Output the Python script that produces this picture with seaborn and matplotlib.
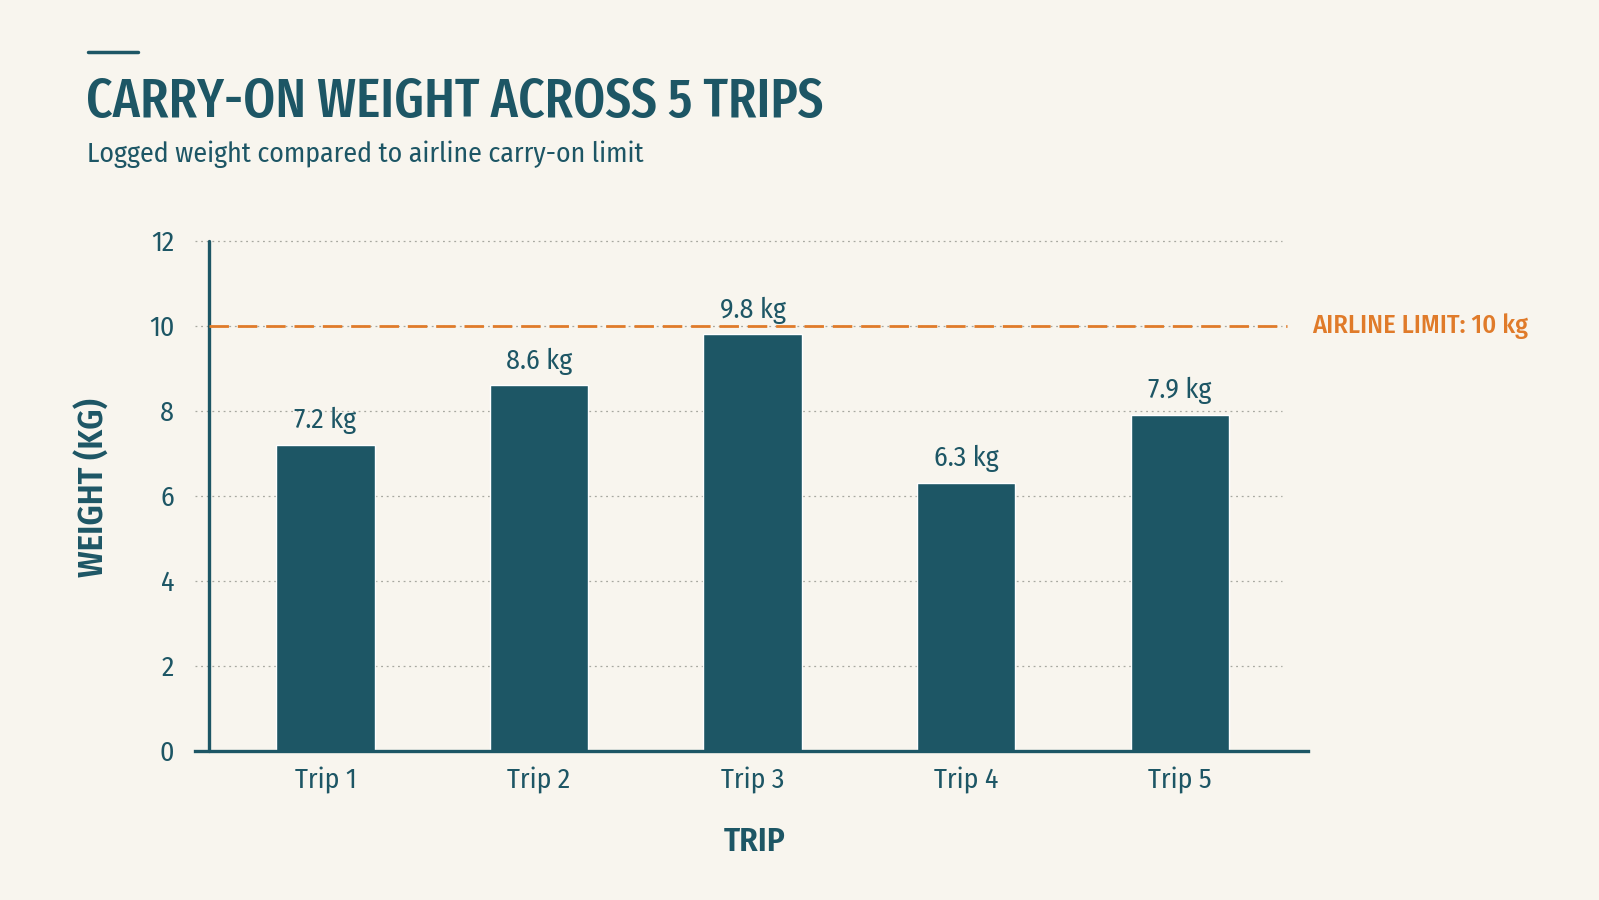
import pandas as pd
import seaborn as sns
from matplotlib import pyplot as plt
from matplotlib.lines import Line2D

# data
trips = ["Trip 1", "Trip 2", "Trip 3", "Trip 4", "Trip 5"]
weights = [7.2, 8.6, 9.8, 6.3, 7.9]
limit = 10
y_ticks = [0, 2, 4, 6, 8, 10, 12]

TEAL = "#1d5665"
ORANGE = "#e07b2a"
BG = "#f8f5ee"
GRID = "#a8a8a0"
FONT = ["Fira Sans Condensed", "DejaVu Sans"]

sns.set_theme(style="white")
plt.rcParams["font.family"] = FONT

df = pd.DataFrame({"trip": trips, "weight": weights})

fig = plt.figure(figsize=(15.99, 9), dpi=100, facecolor=BG)
ax = fig.add_axes([0.122, 0.1661, 0.696, 0.5664])
ax.set_facecolor(BG)

sns.barplot(data=df, x="trip", y="weight", color=TEAL, width=0.46, saturation=1, ax=ax, zorder=3)

ax.set_xlim(-0.61, 4.6)
ax.set_ylim(0, 12)
ax.set_yticks(y_ticks)
ax.set_xlabel("")
ax.set_ylabel("")

for s in ["top", "right", "left"]:
    ax.spines[s].set_visible(False)
ax.spines["bottom"].set_color(TEAL)
ax.spines["bottom"].set_linewidth(2.4)
ax.spines["bottom"].set_zorder(4)

# y axis line sits a bit right of where the grid starts
ax.axvline(-0.545, ymin=0, ymax=1, color=TEAL, lw=2.4, zorder=4, clip_on=False)

# dotted grid that stops short of the x axis end
for t in y_ticks[1:]:
    ax.axhline(t, xmin=0, xmax=0.9766, color=GRID, lw=0.9, ls=(0, (1.5, 3)), zorder=1, clip_on=False)

# airline limit
ax.axhline(limit, xmin=0.0126, xmax=0.981, color=ORANGE, lw=2.0, ls=(0, (7, 3.2)), zorder=5, clip_on=False)
ax.text(1.004, limit, f"AIRLINE LIMIT: {limit} kg", transform=ax.get_yaxis_transform(),
        color=ORANGE, fontsize=19, fontweight="medium", va="center", ha="left")

for i, v in enumerate(weights):
    ax.text(i, v + 0.25, f"{v} kg", ha="center", va="bottom", color=TEAL, fontsize=20, fontweight="normal", zorder=6)

ax.tick_params(axis="both", length=0, labelsize=20, labelcolor=TEAL)
ax.tick_params(axis="y", pad=15)
ax.tick_params(axis="x", pad=12)

fig.text(755 / 1599, 1 - 842 / 900, "TRIP", ha="center", va="center", color=TEAL, fontsize=24, fontweight="semibold")
fig.text(94 / 1599, 1 - 488 / 900, "WEIGHT (KG)", ha="center", va="center", rotation=90, color=TEAL, fontsize=25, fontweight="semibold")

fig.add_artist(Line2D([88 / 1599, 138 / 1599], [1 - 52 / 900] * 2, color=TEAL, lw=2.5))
fig.text(86 / 1599, 1 - 117 / 900, "CARRY-ON WEIGHT ACROSS 5 TRIPS", ha="left", va="baseline",
         color=TEAL, fontsize=40, fontweight="medium", family=["Fira Sans Extra Condensed", "DejaVu Sans"])
fig.text(87 / 1599, 1 - 162 / 900, "Logged weight compared to airline carry-on limit", ha="left", va="baseline",
         color=TEAL, fontsize=20)

fig.savefig("out.png", dpi=100, facecolor=BG)
